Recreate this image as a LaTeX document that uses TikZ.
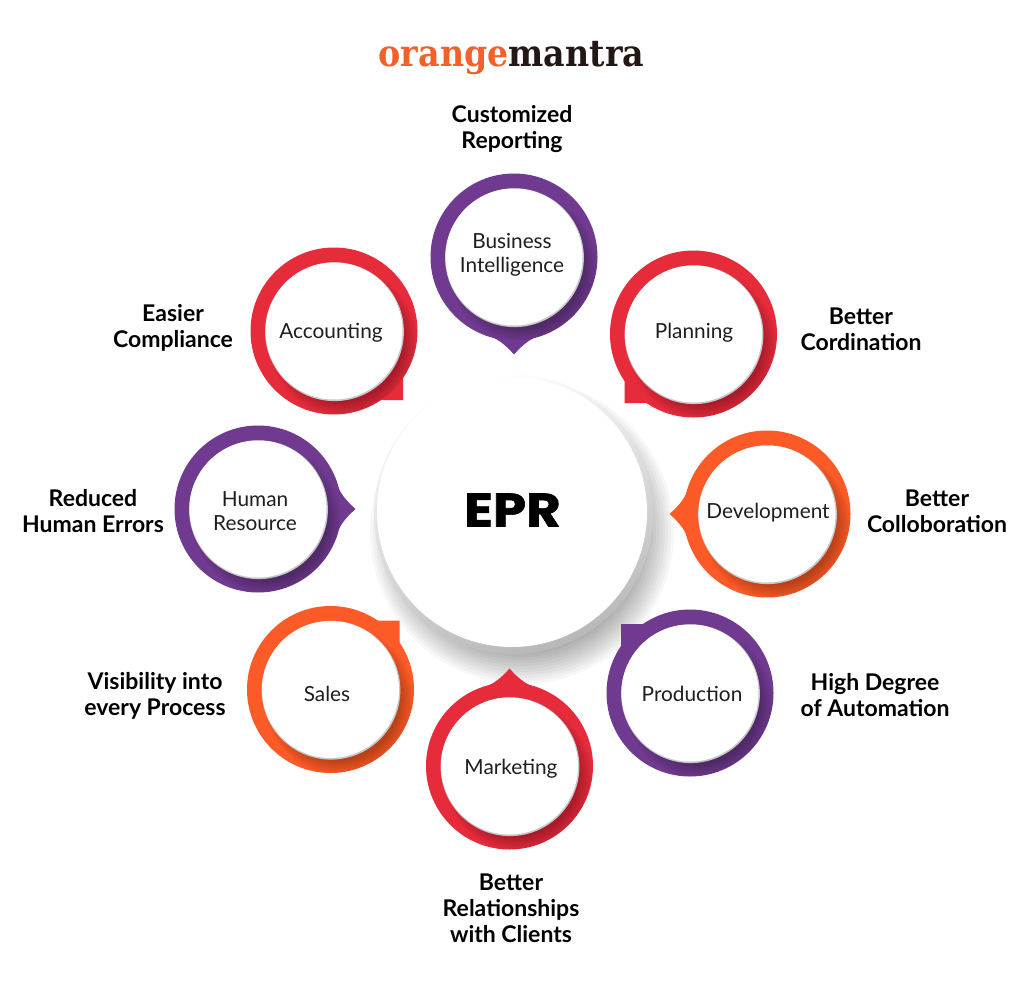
\documentclass[tikz,border=0pt]{standalone}
\usepackage{fontspec}
\setmainfont{Lato}
\newfontfamily\logofont{DejaVu Serif Condensed}
\newfontfamily\eprfont[BoldFeatures={FakeBold=1.2}]{Poppins}
\usetikzlibrary{calc}
\definecolor{ringpurple}{HTML}{6F3A8F}
\definecolor{ringred}{HTML}{E62B3B}
\definecolor{ringorange}{HTML}{FC5A26}
\definecolor{logoorange}{HTML}{F4602A}
\definecolor{logodark}{HTML}{231815}
\definecolor{inktext}{HTML}{1E1E1E}
\tikzset{
  ringface/.style={circle,fill=white,inner sep=0pt,minimum size=137pt,draw=none},
  ringlabel/.style={align=center,text=inktext,font=\fontsize{20.8}{24}\selectfont,inner sep=0pt},
  sidelabel/.style={align=center,text=black,font=\fontsize{23}{26}\bfseries\selectfont,inner sep=0pt},
}
\newcommand{\tipmark}[1]{\fill[rotate=#1] (-26,78) .. controls (-18,82) and (-12,84) .. (0,97.5) .. controls (12,84) and (18,82) .. (26,78) -- (0,40) -- cycle;}
\newcommand{\cornermark}[1]{\fill[rotate=#1] (69,46) -- (69,69) -- (46,69) -- (40,40) -- cycle;}
\newcommand{\ringitem}[5]{%
  \begin{scope}[shift={(#2,#3)}]
    \begin{scope}[#4]\fill (0,0) circle[radius=83.5]; #5\end{scope}
    \begin{scope}
      \clip (0,0) circle[radius=83.5];
      \foreach \r in {60,62,...,74}{\fill[black,opacity=0.035] (9,11) circle[radius=\r];}
    \end{scope}
    \fill[black!22] (0.5,0.7) circle[radius=69.4];
    \node[ringface] (#1) at (0,0) {};
  \end{scope}}
\begin{document}
\begin{tikzpicture}[x=1pt,y=-1pt]
\useasboundingbox (0,0) rectangle (1024,992);
\fill[white] (0,0) rectangle (1024,992);
% logo
\node[inner sep=0pt,anchor=base] (logo) at (511.5,67) {\logofont\bfseries\fontsize{37}{37}\selectfont\textcolor{logoorange}{orange}\textcolor{logodark}{mantra}};
% central disc and its shadow
\foreach \r in {116,119,...,152}{\fill[black,opacity=0.032] (522,532) circle[radius=\r];}
\shade[top color=white,bottom color=black!28,shading angle=20] (513.5,514.5) circle[radius=139.5];
\node[circle,fill=white,inner sep=0pt,minimum size=270pt] (hub) at (512,512) {};
\node[inner sep=0pt,text=black,xscale=1.13,transform shape,font=\eprfont\bfseries\fontsize{47}{47}\selectfont] (hubtext) at (512.5,510) {EPR};
% rings
\ringitem{bizf}{514}{257}{ringpurple}{\tipmark{0}}
\ringitem{accf}{334}{331}{ringred}{\cornermark{0}}
\ringitem{planf}{693.5}{334}{ringred}{\cornermark{-90}}
\ringitem{devf}{767}{514}{ringorange}{\tipmark{-90}}
\ringitem{prodf}{690}{693}{ringpurple}{\cornermark{180}}
\ringitem{markf}{509.5}{766}{ringred}{\tipmark{180}}
\ringitem{salesf}{330.5}{689.5}{ringorange}{\cornermark{90}}
\ringitem{humf}{258}{509}{ringpurple}{\tipmark{90}}
% inner labels
\node[ringlabel] (biz) at (512,255) {Business\\Intelligence};
\node[ringlabel] (acc) at (331,333) {Accounting};
\node[ringlabel] (plan) at (694,333) {Planning};
\node[ringlabel] (dev) at (768,513) {Development};
\node[ringlabel] (prod) at (692,693.5) {Production};
\node[ringlabel] (mark) at (511,769) {Marketing};
\node[ringlabel] (sales) at (327,693.5) {Sales};
\node[ringlabel] (hum) at (255,511) {Human\\Resource};
% outer labels
\node[sidelabel] (l1) at (512,129.5) {Customized\\Reporting};
\node[sidelabel] (l2) at (173,328) {Easier\\Compliance};
\node[sidelabel] (l3) at (861,329) {Better\\Cordination};
\node[sidelabel] (l4) at (937,511) {Better\\Colloboration};
\node[sidelabel] (l5) at (875,695) {High Degree\\of Automation};
\node[sidelabel] (l6) at (511,908) {Better\\Relationships\\with Clients};
\node[sidelabel] (l7) at (155,696) {Visibility into\\every Process};
\node[sidelabel] (l8) at (93,511) {Reduced\\Human Errors};
\end{tikzpicture}
\end{document}
